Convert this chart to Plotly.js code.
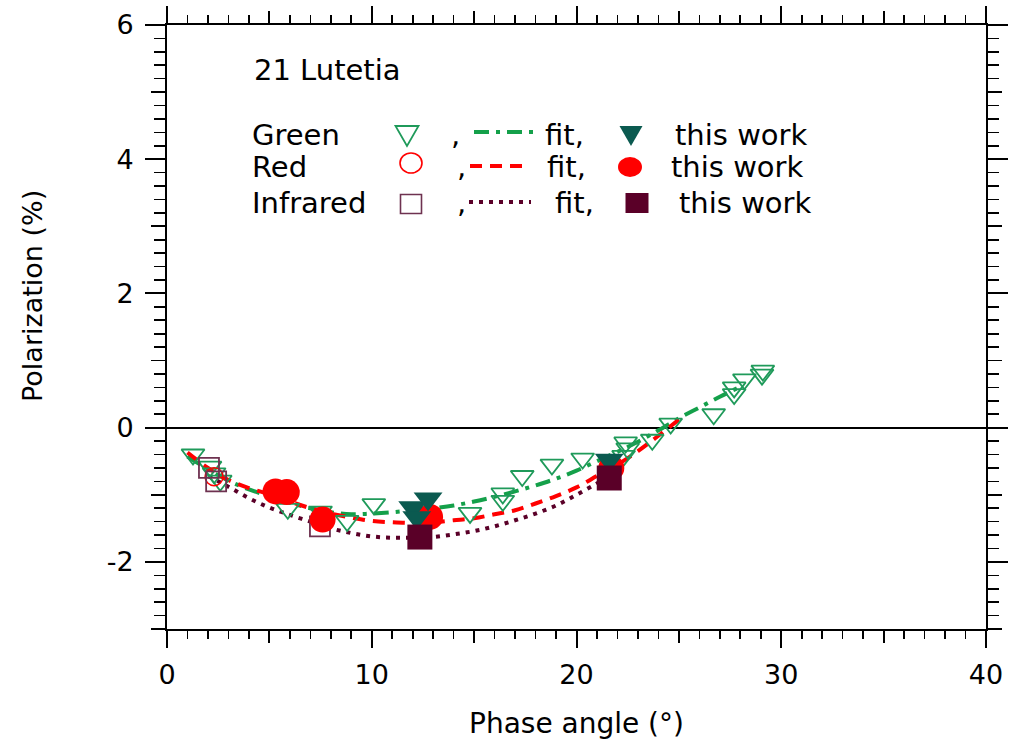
<!DOCTYPE html>
<html>
<head>
<meta charset="utf-8">
<script src="https://cdn.plot.ly/plotly-3.0.1.min.js"></script>
<style>html,body{margin:0;padding:0;background:#fff;}#chart{width:1021px;height:742px;}</style>
</head>
<body>
<div id="chart"></div>
<script>
// ---- Data ----
// Green observations (open triangles)
const greenObsPhase = [1.27, 2.1, 2.3, 2.6, 5.9, 7.5, 8.8, 10.1, 14.8, 16.4, 16.4, 17.35, 18.8, 20.3, 22.4, 22.5, 22.3, 23.7, 24.6, 26.7, 27.7, 27.7, 28.2, 29.06, 29.1];
const greenObsPol   = [-0.40, -0.58, -0.68, -0.79, -1.21, -1.25, -1.39, -1.14, -1.27, -0.98, -1.09, -0.72, -0.55, -0.46, -0.22, -0.31, -0.42, -0.18, 0.06, 0.20, 0.60, 0.50, 0.72, 0.79, 0.85];
// Red observations (open circles)
const redObsPhase = [2.3];
const redObsPol   = [-0.73];
// Infrared observations (open squares)
const irObsPhase = [2.05, 2.4, 7.47];
const irObsPol   = [-0.60, -0.80, -1.47];

// Fits
const greenFitPhase = [1, 2, 3, 4, 5, 6, 7, 8, 9, 10, 11, 12, 13, 14, 15, 16, 17, 18, 19, 20, 21, 22, 23, 24, 25, 26, 27, 28];
const greenFitPol   = [-0.43, -0.62, -0.79, -0.92, -1.02, -1.12, -1.20, -1.26, -1.29, -1.28, -1.26, -1.23, -1.20, -1.16, -1.10, -1.03, -0.95, -0.86, -0.76, -0.64, -0.50, -0.36, -0.21, -0.04, 0.14, 0.30, 0.46, 0.61];
const redFitPhase = [1, 2, 3, 4, 5, 6, 7, 8, 9, 10, 11, 12, 13, 14, 15, 16, 17, 18, 19, 20, 21, 22, 23, 24, 25];
const redFitPol   = [-0.37, -0.60, -0.78, -0.90, -0.99, -1.10, -1.20, -1.28, -1.34, -1.39, -1.41, -1.42, -1.41, -1.38, -1.35, -1.29, -1.23, -1.13, -1.02, -0.89, -0.72, -0.55, -0.35, -0.12, 0.12];
const irFitPhase = [2, 3, 4, 5, 6, 7, 8, 9, 10, 11, 12, 13, 14, 15, 16, 17, 18, 19, 20, 21, 21.7];
const irFitPol   = [-0.72, -0.88, -1.05, -1.19, -1.30, -1.40, -1.50, -1.57, -1.62, -1.64, -1.64, -1.63, -1.59, -1.54, -1.47, -1.38, -1.28, -1.16, -1.00, -0.83, -0.70];

// This work
const greenWorkPhase = [12.0, 12.75, 12.2, 21.6];
const greenWorkPol   = [-1.19, -1.06, -1.34, -0.48];
const redWorkPhase = [5.3, 5.85, 7.6, 12.85, 21.7];
const redWorkPol   = [-0.95, -0.96, -1.37, -1.33, -0.60];
const irWorkPhase = [12.35, 21.6];
const irWorkPol   = [-1.63, -0.75];

// Axis ticks
const xTickVals = [0, 10, 20, 30, 40];
const xTickText = ['0', '10', '20', '30', '40'];
const yTickVals = [-2, 0, 2, 4, 6];
const yTickText = ['-2', '0', '2', '4', '6'];

// ---- Colours ----
const cGreenObs = '#1f9a5a';
const cGreenFit = '#14a04a';
const cTeal = '#0b5a50';
const cRed = '#ff0000';
const cIr = '#5a0028';
const cIrObs = '#6e3250';

const FONT = 'DejaVu Sans, Verdana, sans-serif';

const traces = [
  {x: greenFitPhase, y: greenFitPol, mode: 'lines', line: {color: cGreenFit, width: 4, dash: '15px,7px,4px,7px', shape: 'spline'}, hoverinfo: 'skip'},
  {x: redFitPhase, y: redFitPol, mode: 'lines', line: {color: cRed, width: 4, dash: '12px,8px', shape: 'spline'}, hoverinfo: 'skip'},
  {x: irFitPhase, y: irFitPol, mode: 'lines', line: {color: cIr, width: 4, dash: '4px,6px', shape: 'spline'}, hoverinfo: 'skip'},
  {x: greenObsPhase, y: greenObsPol, mode: 'markers', marker: {symbol: 'triangle-down-open', size: 20, color: cGreenObs, line: {width: 1.8}}},
  {x: redObsPhase, y: redObsPol, mode: 'markers', marker: {symbol: 'circle-open', size: 18, color: cRed, line: {width: 1.5}}},
  {x: irObsPhase, y: irObsPol, mode: 'markers', marker: {symbol: 'square-open', size: 20, color: cIrObs, line: {width: 1.8}}},
  {x: redWorkPhase, y: redWorkPol, mode: 'markers', marker: {symbol: 'circle', size: 26, color: cRed}},
  {x: greenWorkPhase, y: greenWorkPol, mode: 'markers', marker: {symbol: 'triangle-down', size: 25, color: cTeal}},
  {x: irWorkPhase, y: irWorkPol, mode: 'markers', marker: {symbol: 'square', size: 25, color: cIr}},
  // carrier for the medium-tick overlay axes
  {x: [], y: [], xaxis: 'x2', yaxis: 'y2', mode: 'markers', hoverinfo: 'skip'}
];

// plot-area pixel geometry helpers for legend placement
const L = 167, R = 986, T = 25, B = 629;
const px = v => (v - L) / (R - L);
const py = v => (B - v) / (B - T);

function txt(text, x, y, size, extra) {
  return Object.assign({text: text, xref: 'paper', yref: 'paper', x: px(x), y: py(y), xanchor: 'left', yanchor: 'middle', showarrow: false, font: {family: FONT, size: size, color: '#000'}}, extra || {});
}
const rowY = [135, 167, 203];
const annotations = [
  txt('21 Lutetia', 252, 70, 29),
  txt('Green', 250, rowY[0], 29),
  txt('Red', 250, rowY[1], 29),
  txt('Infrared', 250, rowY[2], 29),
  txt(',', 449, rowY[0], 29),
  txt(',', 455, rowY[1], 29),
  txt(',', 455, rowY[2], 29),
  txt('fit,', 543, rowY[0], 29),
  txt('fit,', 545, rowY[1], 29),
  txt('fit,', 553, rowY[2], 29),
  txt('this work', 673, rowY[0], 29),
  txt('this work', 669, rowY[1], 29),
  txt('this work', 677, rowY[2], 29),
  txt('Polarization (%)', 32, 296, 27, {xanchor: 'center', textangle: -90})
];

function pshape(type, cx, cy, extra) {
  return Object.assign({type: type, xref: 'paper', yref: 'paper', xsizemode: 'pixel', ysizemode: 'pixel', xanchor: px(cx), yanchor: py(cy)}, extra);
}
const shapes = [
  // open symbols
  pshape('path', 407, 135, {path: 'M-11.5,9 L11.5,9 L0,-11 Z', line: {color: cGreenObs, width: 1.8}, fillcolor: 'rgba(0,0,0,0)'}),
  pshape('circle', 411, 163, {x0: -11, x1: 11, y0: -10, y1: 10, line: {color: cRed, width: 1.6}}),
  pshape('rect', 411, 204, {x0: -10.5, x1: 10.5, y0: -9.5, y1: 9.5, line: {color: cIrObs, width: 1.6}}),
  // filled symbols
  pshape('path', 631, 135, {path: 'M-11.5,9 L11.5,9 L0,-11 Z', line: {width: 0}, fillcolor: cTeal}),
  pshape('circle', 630, 167, {x0: -12, x1: 12, y0: -10, y1: 10, line: {width: 0}, fillcolor: cRed}),
  pshape('rect', 637, 203, {x0: -11.5, x1: 11.5, y0: -10, y1: 10, line: {width: 0}, fillcolor: cIr}),
  // fit line samples
  {type: 'line', xref: 'paper', yref: 'paper', x0: px(474), x1: px(537), y0: py(132), y1: py(132), line: {color: cGreenFit, width: 4, dash: '15px,7px,4px,7px'}},
  {type: 'line', xref: 'paper', yref: 'paper', x0: px(470), x1: px(528), y0: py(166), y1: py(166), line: {color: cRed, width: 4, dash: '12px,8px'}},
  {type: 'line', xref: 'paper', yref: 'paper', x0: px(469), x1: px(531), y0: py(202), y1: py(202), line: {color: cIr, width: 4, dash: '4px,6px'}}
];

const tickFont = {family: FONT, size: 27, color: '#000'};
const layout = {
  width: 1021, height: 742,
  margin: {l: L, r: 1021 - R, t: T, b: 742 - B, pad: 0},
  paper_bgcolor: '#fff', plot_bgcolor: '#fff',
  showlegend: false,
  font: {family: FONT, color: '#000'},
  xaxis: {
    range: [0, 40], tickvals: xTickVals, ticktext: xTickText, ticks: 'outside', ticklen: 17, tickwidth: 2, tickcolor: '#000',
    showline: true, linewidth: 2, linecolor: '#000', mirror: 'ticks', showgrid: false, zeroline: false,
    tickfont: tickFont, ticklabelstandoff: 4,
    minor: {dtick: 1, ticks: 'outside', ticklen: 8, tickwidth: 1.6, tickcolor: '#000', showgrid: false},
    title: {text: 'Phase angle (°)', font: {family: FONT, size: 28, color: '#000'}, standoff: 24},
    automargin: false
  },
  yaxis: {
    range: [-3, 6], tickvals: yTickVals, ticktext: yTickText, ticks: 'outside', ticklen: 20, tickwidth: 2, tickcolor: '#000',
    showline: true, linewidth: 2, linecolor: '#000', mirror: 'ticks', showgrid: false,
    zeroline: true, zerolinecolor: '#000', zerolinewidth: 1.8,
    tickfont: tickFont, ticklabelstandoff: 6,
    minor: {dtick: 0.2, tick0: 0, ticks: 'outside', ticklen: 11, tickwidth: 1.6, tickcolor: '#000', showgrid: false},
    automargin: false
  },
  xaxis2: {overlaying: 'x', anchor: 'y', range: [0, 40], dtick: 5, tick0: 0, ticks: 'outside', ticklen: 13, tickwidth: 1.8, tickcolor: '#000', mirror: 'ticks', showline: false, showgrid: false, zeroline: false, showticklabels: false},
  yaxis2: {overlaying: 'y', anchor: 'x', range: [-3, 6], dtick: 1, tick0: 0, ticks: 'outside', ticklen: 15, tickwidth: 1.8, tickcolor: '#000', mirror: 'ticks', showline: false, showgrid: false, zeroline: false, showticklabels: false},
  annotations: annotations,
  shapes: shapes
};

Plotly.newPlot('chart', traces, layout, {displayModeBar: false, staticPlot: true});
</script>
</body>
</html>
